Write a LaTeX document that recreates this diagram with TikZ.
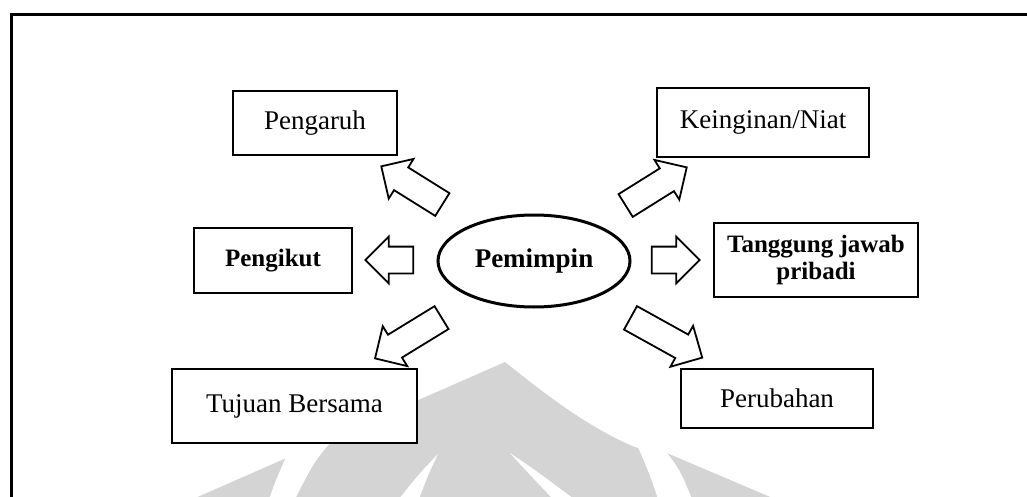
\documentclass[tikz,border=0pt]{standalone}
\usepackage{fontspec}
\setmainfont{Liberation Serif}
\usetikzlibrary{shapes.geometric,shapes.arrows}
\definecolor{markgrey}{RGB}{212,212,212}
\begin{document}
\begin{tikzpicture}[x=1pt,y=-1pt,
  box/.style={draw, fill=white, line width=2pt, rectangle, inner sep=0pt,
    align=center, font=\fontsize{27}{30}\selectfont},
  boldbox/.style={box, font=\bfseries\fontsize{25}{27}\selectfont},
  leadnode/.style={draw, fill=white, line width=3pt, ellipse, inner sep=0pt,
    minimum width=192pt, minimum height=92pt,
    font=\bfseries\fontsize{27}{30}\selectfont},
  blockarrow/.style={draw, fill=white, line width=1.8pt, single arrow,
    inner xsep=0pt, inner ysep=12.5pt, single arrow head extend=10pt,
    single arrow tip angle=90, minimum height=#1},
  frameline/.style={line width=3pt},
]
\useasboundingbox (0,0) rectangle (1027,497);

% faint emblem in the background
\begin{scope}
  \clip (0,0) rectangle (1027,497);
  \fill[markgrey] (193,499) -- (505,362)
    .. controls (540,390) and (590,430) .. (640,449)
    -- (662,451) -- (775,499) -- cycle;
  % petal divisions
  \fill[white] (286,457) -- (338,434) .. controls (315,460) .. (295,499)
    -- (269,499) .. controls (276,480) .. cycle;
  \fill[white] (438,454) .. controls (428,475) .. (419,499) -- (399,499)
    .. controls (418,475) .. cycle;
  \fill[white] (510,453) .. controls (535,470) .. (574,499) -- (553,499)
    .. controls (530,475) .. cycle;
  \fill[white] (638,447) -- (664,449) .. controls (680,470) .. (692,499)
    -- (658,499) .. controls (650,475) .. cycle;
\end{scope}

% outer frame
\coordinate (fr) at (1027,14.5);
\coordinate (fc) at (11.5,14.5);
\coordinate (fb) at (11.5,497);
\draw[frameline] (fr) -- (fc) -- (fb);

% centre
\node[leadnode] (lead) at (534,261) {Pemimpin};

% surrounding boxes
\node[box, minimum width=164pt, minimum height=64pt] (pengaruh) at (315,123) {Pengaruh};
\node[box, minimum width=212pt, minimum height=69pt] (niat) at (763,122.5) {Keinginan/Niat};
\node[boldbox, minimum width=158pt, minimum height=65pt] (pengikut) at (273,260.5) {Pengikut};
\node[boldbox, minimum width=204pt, minimum height=74pt] (tanggung) at (816,260) {Tanggung jawab\\pribadi};
\node[box, minimum width=245pt, minimum height=74pt] (tujuan) at (294.5,406) {Tujuan Bersama};
\node[box, minimum width=192pt, minimum height=59pt] (perubahan) at (777,398.5) {Perubahan};

% block arrows pointing outwards from the centre
\node[blockarrow=72pt, rotate=148] (a1) at (417.5,189) {};
\node[blockarrow=72pt, rotate=32] (a2) at (650.5,190) {};
\node[blockarrow=48pt, rotate=180] (a3) at (396,260) {};
\node[blockarrow=48pt, rotate=0] (a4) at (669,260) {};
\node[blockarrow=78pt, rotate=211.5] (a5) at (414,334.5) {};
\node[blockarrow=82pt, rotate=-29] (a6) at (660.5,334.5) {};
\end{tikzpicture}
\end{document}
